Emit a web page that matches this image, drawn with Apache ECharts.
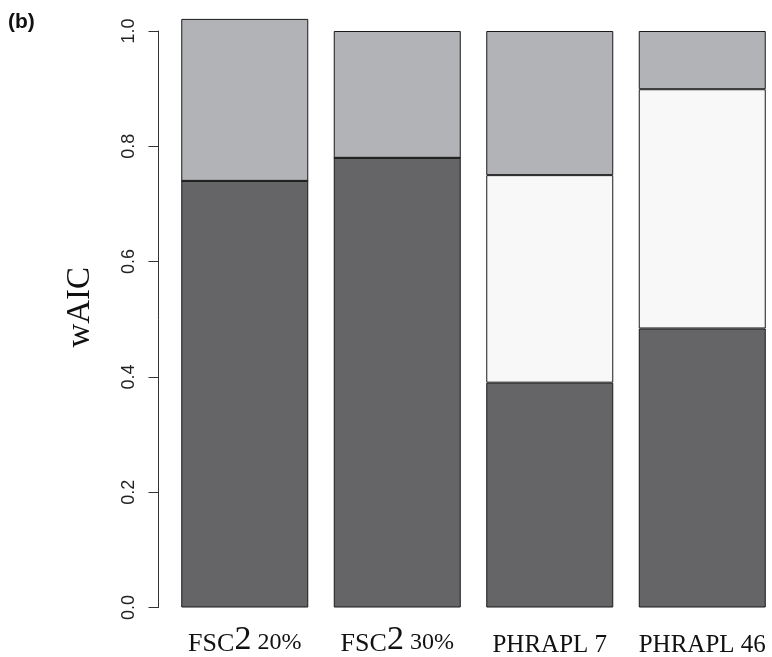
<!DOCTYPE html>
<html>
<head>
<meta charset="utf-8">
<script src="https://cdn.jsdelivr.net/npm/echarts@6/dist/echarts.min.js"></script>
<style>html,body{margin:0;padding:0;background:#fff}#c{width:772px;height:657px}</style>
</head>
<body>
<div id="c"></div>
<script>
// Data
var categories = ['FSC2 20%', 'FSC2 30%', 'PHRAPL 7', 'PHRAPL 46'];
var darkSeg  = [0.740, 0.780, 0.390, 0.484];
var whiteSeg = [0.000, 0.000, 0.360, 0.415];
var graySeg  = [0.281, 0.220, 0.250, 0.101];
var yTicks = [0, 0.2, 0.4, 0.6, 0.8, 1.0];

var chart = echarts.init(document.getElementById('c'), null, {renderer: 'canvas'});
var serif = '"Liberation Serif", "Times New Roman", serif';
var sans = '"Liberation Sans", Arial, sans-serif';

function fmtCat(v) {
  var m = v.match(/^FSC2 (.*)$/);
  if (m) return '{a|FSC}{b|2}{c| ' + m[1] + '}';
  return '{p|' + v + '}';
}

function mk(name, data, color) {
  return {
    name: name, type: 'bar', stack: 'w', data: data, barWidth: 127, clip: false,
    itemStyle: {color: color, borderColor: '#1a1a1a', borderWidth: 1},
    emphasis: {disabled: true}, animation: false
  };
}

chart.setOption({
  animation: false,
  title: {text: '(b)', left: 3, top: 7, textStyle: {fontFamily: sans, fontSize: 21, fontWeight: 'bold', color: '#111'}},
  grid: {left: 168.5, width: 610, top: 31, height: 576.5, containLabel: false, outerBoundsMode: 'none'},
  xAxis: {
    type: 'category', data: categories,
    axisLine: {show: false}, axisTick: {show: false},
    axisLabel: {
      margin: 16, color: '#111', formatter: fmtCat, interval: 0,
      rich: {
        a: {fontFamily: serif, fontSize: 26, lineHeight: 34, verticalAlign: 'bottom', color: '#111'},
        b: {fontFamily: serif, fontSize: 34, lineHeight: 34, verticalAlign: 'bottom', color: '#111'},
        c: {fontFamily: serif, fontSize: 24, lineHeight: 34, verticalAlign: 'bottom', color: '#111', padding: [0, 0, 3, 0]},
        p: {fontFamily: serif, fontSize: 25, lineHeight: 34, verticalAlign: 'bottom', color: '#111'}
      }
    }
  },
  yAxis: {
    type: 'value', min: yTicks[0], max: yTicks[yTicks.length - 1], interval: 0.2, offset: 10,
    name: 'wAIC', nameLocation: 'middle', nameRotate: 90, nameGap: 62,
    nameTextStyle: {fontFamily: serif, fontSize: 33, color: '#111', padding: [0, 0, 0, 24]},
    axisLine: {show: true, lineStyle: {color: '#333', width: 1}},
    axisTick: {show: true, length: 10, lineStyle: {color: '#333', width: 1}},
    splitLine: {show: false},
    axisLabel: {rotate: 90, margin: 20, fontFamily: sans, fontSize: 18, color: '#222',
      formatter: function (v) { return v.toFixed(1); }}
  },
  series: [
    mk('dark', darkSeg, '#656567'),
    mk('white', whiteSeg, '#f8f8f8'),
    mk('gray', graySeg, '#b2b3b6')
  ]
});
</script>
</body>
</html>
